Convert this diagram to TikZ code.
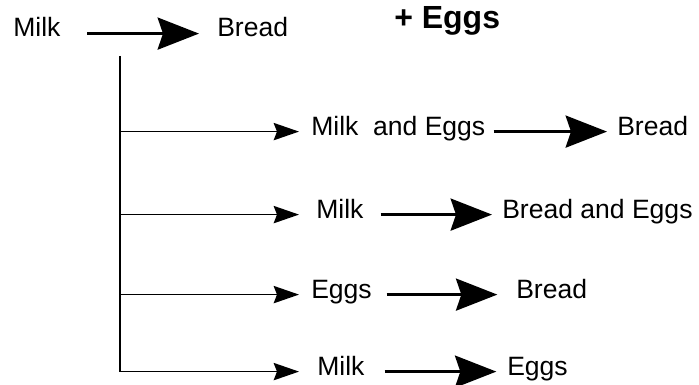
\documentclass[tikz,border=0pt]{standalone}
\usepackage{fontspec}
\setmainfont{Liberation Sans}
\usepackage{tikz}
\usetikzlibrary{arrows.meta, positioning}
\tikzset{
  item/.style={
    inner sep=0pt, anchor=base west, text height=0.72em, text depth=0.21em,
    font=\fontsize{19.9pt}{24pt}\selectfont
  },
  added/.style={item, font=\fontsize{24pt}{28pt}\selectfont\bfseries},
  rule/.style={draw, -{Stealth[length=31pt, width=24pt, inset=4pt]}, line width=2.4pt},
  branch/.style={draw, -{Stealth[length=19pt, width=13pt, inset=2.5pt]}, line width=1.3pt},
  trunk/.style={draw, line width=1.3pt},
}
\begin{document}
\begin{tikzpicture}[x=0.75pt, y=-0.75pt]
  \useasboundingbox (0,0) rectangle (699,385);

  % original rule
  \node[item] (A0) at (13,37) {Milk};
  \node[item] (C0) at (217,37) {Bread};
  \node[added] (E0) at (394,29) {+ Eggs};
  \path[rule, shorten <=20pt, shorten >=13.5pt] (A0.east) -- (C0.west);

  % candidate rules
  \node[item] (A1) at (311,135) {Milk~~and Eggs};
  \node[item] (C1) at (617,135) {Bread};
  \node[item] (A2) at (316,218) {Milk};
  \node[item] (C2) at (502,218) {Bread and Eggs};
  \node[item] (A3) at (311,298) {Eggs};
  \node[item] (C3) at (516,298) {Bread};
  \node[item] (A4) at (317,375) {Milk};
  \node[item] (C4) at (507,375) {Eggs};

  \coordinate (top) at (120,56);
  \path[trunk] (top) -- (top |- A4.west);
  \path[branch, shorten >=9pt] (top |- A1.west) -- (A1.west);
  \path[branch, shorten >=12.75pt] (top |- A2.west) -- (A2.west);
  \path[branch, shorten >=9pt] (top |- A3.west) -- (A3.west);
  \path[branch, shorten >=13.5pt] (top |- A4.west) -- (A4.west);

  \path[rule, shorten <=6pt, shorten >=7.5pt] (A1.east) -- (C1.west);
  \path[rule, shorten <=12.75pt, shorten >=7.5pt] (A2.east) -- (C2.west);
  \path[rule, shorten <=11pt, shorten >=14pt] (A3.east) -- (C3.west);
  \path[rule, shorten <=15pt, shorten >=8pt] (A4.east) -- (C4.west);
\end{tikzpicture}
\end{document}
